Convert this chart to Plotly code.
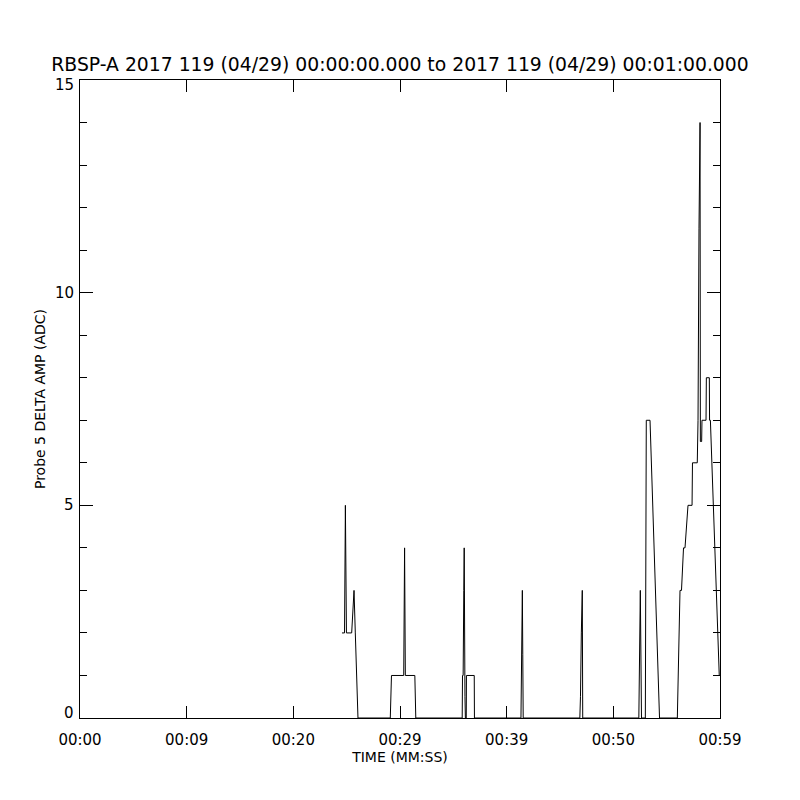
import plotly.graph_objects as go

# Time in seconds after 00:00:00 and Probe 5 delta amplitude (ADC)
time_s = [24.56, 24.78, 24.80, 24.88, 24.98, 25.47, 25.69, 25.81, 26.06,
          29.09, 29.20, 30.35, 30.43, 30.50, 31.39, 31.48,
          35.83, 35.86, 35.92, 35.98, 36.02, 36.09, 36.13, 36.21, 36.23, 36.96, 36.98,
          41.34, 41.39, 41.47, 41.51, 41.55,
          46.86, 46.92, 47.00, 47.09, 47.13,
          52.39, 52.53, 52.58, 52.64,
          53.00, 53.09, 53.44, 54.33,
          56.00, 56.25, 56.39, 56.58, 56.72, 57.00, 57.38, 57.42, 57.87, 57.94,
          58.03, 58.13, 58.16, 58.28, 58.31, 58.69, 58.72, 59.00, 59.02, 59.10,
          59.93, 60.00]
amp = [2, 2, 2, 5, 2, 2, 3, 2, 0,
       0, 1, 1, 4, 1, 1, 0,
       0, 1, 1, 3, 4, 0.5, 0, 0, 1, 1, 0,
       0, 1, 3, 1.5, 0,
       0, 0.5, 2, 3, 0,
       0, 3, 1.5, 0,
       0, 7, 7, 0,
       0, 3, 3, 4, 4, 5, 5, 6, 6, 7,
       11.5, 14, 6.5, 6.5, 7, 7, 8, 8, 7, 7,
       1, 1]

x_tick_vals = [0, 10, 20, 30, 40, 50, 60]
x_tick_text = ["00:00", "00:09", "00:20", "00:29", "00:39", "00:50", "00:59"]
y_tick_vals = [0, 5, 10, 15]
y_tick_text = ["0", "5", "10", "15"]

title_text = "RBSP-A 2017 119 (04/29) 00:00:00.000 to 2017 119 (04/29) 00:01:00.000"
FONT = "DejaVu Sans"

fig = go.Figure()
fig.add_trace(go.Scatter(x=time_s, y=amp, mode="lines",
                         line=dict(color="black", width=1),
                         showlegend=False, hoverinfo="skip"))

# the page adds an 8px body margin, so the figure margins are offset by 8px
fig.update_layout(
    width=800, height=800,
    paper_bgcolor="white", plot_bgcolor="white",
    margin=dict(l=72, r=88, t=72, b=90),
    font=dict(family=FONT, color="black", size=14),
    title=dict(text=title_text, x=0.5, xanchor="center", xref="paper",
               y=1 - 56 / 800, yref="container", yanchor="middle",
               font=dict(family=FONT, size=18.8, color="black")),
)

fig.update_xaxes(
    range=[0, 60], tickmode="array", tickvals=x_tick_vals, ticktext=x_tick_text,
    showgrid=False, zeroline=False, showline=True, linecolor="black", linewidth=1,
    mirror="ticks", ticks="inside", ticklen=12, tickcolor="black", tickwidth=1,
    ticklabelstandoff=8,
    tickfont=dict(family=FONT, size=15, color="black"),
    title=dict(text="TIME (MM:SS)", font=dict(family=FONT, size=14, color="black"), standoff=4),
)
fig.update_yaxes(
    range=[0, 15], tickmode="array", tickvals=y_tick_vals, showticklabels=False,
    showgrid=False, zeroline=False, showline=True, linecolor="black", linewidth=1,
    mirror="ticks", ticks="inside", ticklen=13, tickcolor="black", tickwidth=1,
    minor=dict(dtick=1, ticks="inside", ticklen=7, tickcolor="black", tickwidth=1, showgrid=False),
    title=dict(text="Probe 5 DELTA AMP (ADC)", font=dict(family=FONT, size=14, color="black"), standoff=30),
)

# y tick labels (end labels nudged inward as in the reference)
n = len(y_tick_vals)
for i, (v, t) in enumerate(zip(y_tick_vals, y_tick_text)):
    shift = 5 if i == 0 else (-5 if i == n - 1 else 0)
    fig.add_annotation(x=0, xref="paper", y=v, yref="y", text=t, showarrow=False,
                       xanchor="right", yanchor="middle", xshift=-4, yshift=shift,
                       font=dict(family=FONT, size=15, color="black"))

fig.write_html("out.html")
